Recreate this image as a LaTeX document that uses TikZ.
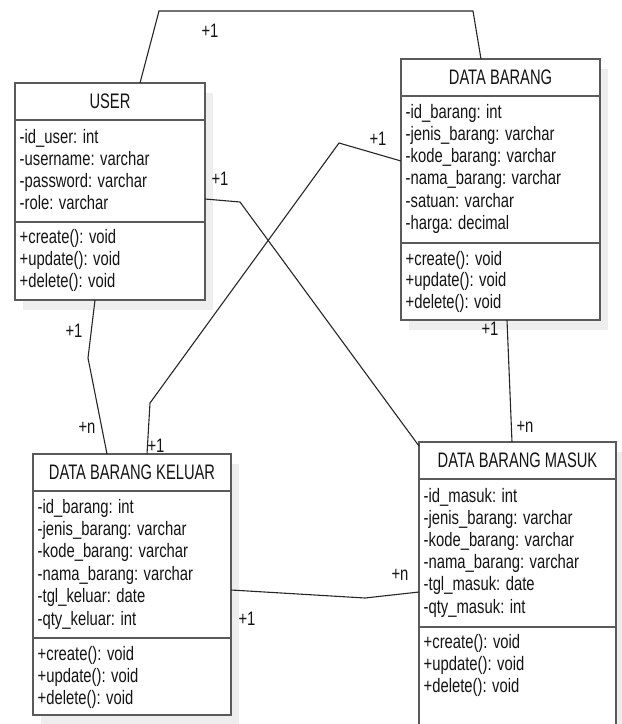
\documentclass[tikz,border=0pt]{standalone}
\usepackage{fontspec}
\setmainfont{Liberation Sans}[FakeStretch=0.76]
\newfontfamily\titlefont{Liberation Sans}[FakeStretch=0.70]
\usetikzlibrary{calc}
\definecolor{boxline}{HTML}{5A5A5A}
\definecolor{shade}{HTML}{EEEEEE}
\definecolor{ink}{HTML}{141414}
\definecolor{wire}{HTML}{262626}
\begin{document}
\begin{tikzpicture}[x=1pt,y=-1pt,
 umlbox/.style={draw=boxline, line width=1.6pt, fill=white, inner sep=0pt, outer sep=0pt, anchor=north west},
 shadowbox/.style={fill=shade, draw=none, inner sep=0pt, outer sep=0pt, anchor=north west},
 titletext/.style={text=ink, font=\titlefont\fontsize{21}{24}\selectfont, inner sep=0pt},
 itemtext/.style={text=ink, font=\fontsize{19.5}{22}\selectfont, inner sep=0pt, anchor=base west},
 multlabel/.style={text=ink, font=\fontsize{19.5}{22}\selectfont, inner sep=0pt, anchor=base},
 wireline/.style={draw=wire, line width=1.1pt},
 sepline/.style={draw=boxline, line width=1.6pt}]
\useasboundingbox (0,0) rectangle (622,724);

% shadows
\node[shadowbox, minimum width=190pt, minimum height=217pt] (user-sh) at (23,93) {};
\node[shadowbox, minimum width=199pt, minimum height=261pt] (db-sh) at (409,69) {};
\node[shadowbox, minimum width=198pt, minimum height=261pt] (dbk-sh) at (41,464) {};
\node[shadowbox, minimum width=197pt, minimum height=300pt] (dbm-sh) at (427,452) {};

% boxes
\node[umlbox, minimum width=190pt, minimum height=217pt] (user) at (15,83) {};
\node[umlbox, minimum width=199pt, minimum height=261pt] (db) at (401,59) {};
\node[umlbox, minimum width=198pt, minimum height=261pt] (dbk) at (33,454) {};
\node[umlbox, minimum width=197pt, minimum height=300pt] (dbm) at (419,442) {};

% separators
\draw[sepline] ($(user.north west)+(0,37)$) -- ($(user.north east)+(0,37)$);
\draw[sepline] ($(user.north west)+(0,139)$) -- ($(user.north east)+(0,139)$);
\draw[sepline] ($(db.north west)+(0,37)$) -- ($(db.north east)+(0,37)$);
\draw[sepline] ($(db.north west)+(0,184)$) -- ($(db.north east)+(0,184)$);
\draw[sepline] ($(dbk.north west)+(0,37)$) -- ($(dbk.north east)+(0,37)$);
\draw[sepline] ($(dbk.north west)+(0,184)$) -- ($(dbk.north east)+(0,184)$);
\draw[sepline] ($(dbm.north west)+(0,37)$) -- ($(dbm.north east)+(0,37)$);
\draw[sepline] ($(dbm.north west)+(0,185)$) -- ($(dbm.north east)+(0,185)$);

% titles
\node[titletext] (user-t) at ($(user.north)+(0,18.5)$) {USER};
\node[titletext] (db-t) at ($(db.north)+(0,18.5)$) {DATA BARANG};
\node[titletext] (dbk-t) at ($(dbk.north)+(0,18.5)$) {DATA BARANG KELUAR};
\node[titletext] (dbm-t) at ($(dbm.north)+(0,18.5)$) {DATA BARANG MASUK};

% USER items
\foreach \t [count=\i from 0] in {-id\_user: int, -username: varchar, -password: varchar, -role: varchar}
  \node[itemtext] (user-a\i) at ($(user.north west)+(4.5,60+\i*22)$) {\t};
\foreach \t [count=\i from 0] in {+create(): void, +update(): void, +delete(): void}
  \node[itemtext] (user-m\i) at ($(user.north west)+(4.5,160+\i*22)$) {\t};

% DATA BARANG items
\foreach \t [count=\i from 0] in {-id\_barang: int, -jenis\_barang: varchar, -kode\_barang: varchar, -nama\_barang: varchar, -satuan: varchar, -harga: decimal}
  \node[itemtext] (db-a\i) at ($(db.north west)+(4.5,59+\i*22.3)$) {\t};
\foreach \t [count=\i from 0] in {+create(): void, +update(): void, +delete(): void}
  \node[itemtext] (db-m\i) at ($(db.north west)+(4.5,206+\i*21.7)$) {\t};

% DATA BARANG KELUAR items
\foreach \t [count=\i from 0] in {-id\_barang: int, -jenis\_barang: varchar, -kode\_barang: varchar, -nama\_barang: varchar, -tgl\_keluar: date, -qty\_keluar: int}
  \node[itemtext] (dbk-a\i) at ($(dbk.north west)+(4.5,59+\i*22.4)$) {\t};
\foreach \t [count=\i from 0] in {+create(): void, +update(): void, +delete(): void}
  \node[itemtext] (dbk-m\i) at ($(dbk.north west)+(4.5,206+\i*22)$) {\t};

% DATA BARANG MASUK items
\foreach \t [count=\i from 0] in {-id\_masuk: int, -jenis\_barang: varchar, -kode\_barang: varchar, -nama\_barang: varchar, -tgl\_masuk: date, -qty\_masuk: int}
  \node[itemtext] (dbm-a\i) at ($(dbm.north west)+(4.5,60+\i*22.2)$) {\t};
\foreach \t [count=\i from 0] in {+create(): void, +update(): void, +delete(): void}
  \node[itemtext] (dbm-m\i) at ($(dbm.north west)+(4.5,206+\i*22)$) {\t};

% connectors
\draw[wireline] ($(user.north west)+(125,0)$) -- (159,11) -- (473,11) -- ($(db.north west)+(80,0)$);
\draw[wireline] ($(user.south west)+(80,0)$) -- (88,358) -- ($(dbk.north west)+(74,0)$);
\draw[wireline] ($(dbk.north west)+(114,0)$) -- (150,403) -- (339,143) -- ($(db.north west)+(0,102)$);
\draw[wireline] ($(user.north east)+(0,116)$) -- (240,202) -- ($(dbm.north west)+(0,4)$);
\draw[wireline] ($(db.south west)+(106,0)$) -- ($(dbm.north west)+(93,0)$);
\draw[wireline] ($(dbk.north east)+(0,136)$) -- (365,598) -- ($(dbm.north west)+(0,150)$);

% multiplicities
\node[multlabel] (l1) at (210,37) {+1};
\node[multlabel] (l2) at (220,185) {+1};
\node[multlabel] (l3) at (378,145) {+1};
\node[multlabel] (l4) at (74,337) {+1};
\node[multlabel] (l5) at (87,433) {+n};
\node[multlabel] (l6) at (156,452) {+1};
\node[multlabel] (l7) at (490,335) {+1};
\node[multlabel] (l8) at (525,432) {+n};
\node[multlabel] (l9) at (400,580) {+n};
\node[multlabel] (l10) at (247,625) {+1};
\end{tikzpicture}
\end{document}
